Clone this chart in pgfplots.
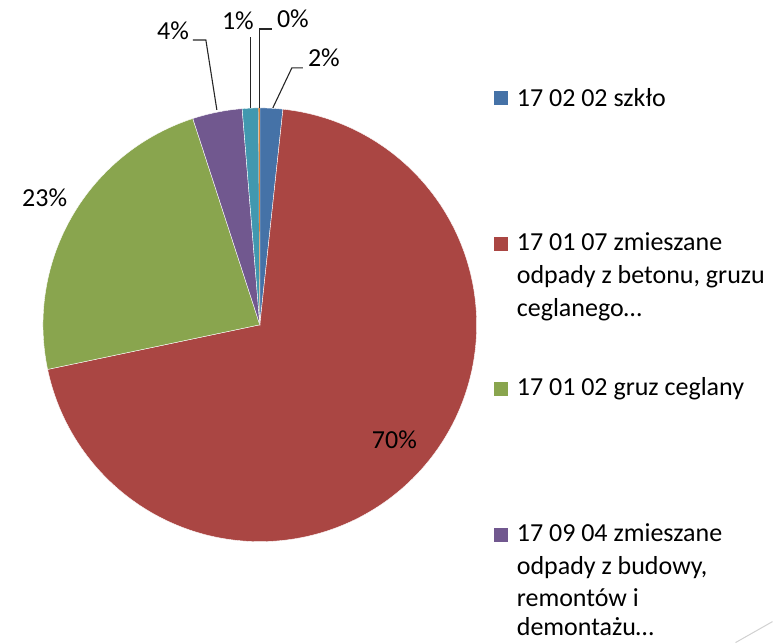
\documentclass[border=0pt]{standalone}
\usepackage{pgfplots}
\pgfplotsset{compat=1.18}
\usepackage{fontspec}
\setmainfont{Carlito}
\definecolor{cBlue}{HTML}{4572A7}
\definecolor{cRed}{HTML}{AA4643}
\definecolor{cGreen}{HTML}{89A54E}
\definecolor{cPurple}{HTML}{71588F}
\definecolor{cTeal}{HTML}{4198AF}
\definecolor{cOrange}{HTML}{DB843D}
% slice values (percent)
\def\vA{1.7}   % 17 02 02 szklo
\def\vB{70.0}  % 17 01 07
\def\vC{23.3}  % 17 01 02
\def\vD{3.7}   % 17 09 04
\def\vE{1.2}
\def\vF{0.1}
\pgfmathsetmacro\aA{90}
\pgfmathsetmacro\aB{\aA-3.6*\vA}
\pgfmathsetmacro\aC{\aB-3.6*\vB}
\pgfmathsetmacro\aD{\aC-3.6*\vC}
\pgfmathsetmacro\aE{\aD-3.6*\vD}
\pgfmathsetmacro\aF{\aE-3.6*\vE}
\pgfmathsetmacro\aG{\aF-3.6*\vF}
\def\cx{260}\def\cy{318}\def\R{217}
\newcommand\lf{\fontsize{26bp}{33bp}\selectfont}
\begin{document}
\begin{tikzpicture}
\begin{axis}[
  scale only axis, width=773bp, height=643bp,
  xmin=0, xmax=773, ymin=0, ymax=643,
  hide axis, clip=false,
]
\path (axis cs:0,0) rectangle (axis cs:773,643);
\addplot[fill=cBlue, draw=white, line width=0.4pt, domain=\aB:\aA, samples=20]
  ({\cx+\R*cos(x)},{\cy+\R*sin(x)}) -- (axis cs:\cx,\cy) -- cycle;
\addplot[fill=cRed, draw=white, line width=0.4pt, domain=\aC:\aB, samples=200]
  ({\cx+\R*cos(x)},{\cy+\R*sin(x)}) -- (axis cs:\cx,\cy) -- cycle;
\addplot[fill=cGreen, draw=white, line width=0.4pt, domain=\aD:\aC, samples=80]
  ({\cx+\R*cos(x)},{\cy+\R*sin(x)}) -- (axis cs:\cx,\cy) -- cycle;
\addplot[fill=cPurple, draw=white, line width=0.4pt, domain=\aE:\aD, samples=20]
  ({\cx+\R*cos(x)},{\cy+\R*sin(x)}) -- (axis cs:\cx,\cy) -- cycle;
\addplot[fill=cTeal, draw=white, line width=0.4pt, domain=\aF:\aE, samples=10]
  ({\cx+\R*cos(x)},{\cy+\R*sin(x)}) -- (axis cs:\cx,\cy) -- cycle;
\addplot[fill=cOrange, draw=none, domain=\aG:\aF, samples=4]
  ({\cx+\R*cos(x)},{\cy+\R*sin(x)}) -- (axis cs:\cx,\cy) -- cycle;
% leader lines
\draw[black!85, line width=1.1bp] (axis cs:273,535) -- (axis cs:292,575) -- (axis cs:303,575);
\draw[black!85, line width=1.1bp] (axis cs:259.3,535) -- (axis cs:259.3,614) -- (axis cs:272,614);
\draw[black!85, line width=1.1bp] (axis cs:251,535) -- (axis cs:251,606);
\draw[black!85, line width=1.1bp] (axis cs:217,533) -- (axis cs:206,603) -- (axis cs:193,603);
% data labels
\begin{scope}[every node/.style={anchor=base west, inner sep=0pt, font=\lf}]
\node at (axis cs:308,576) {2\%};
\node at (axis cs:277,615) {0\%};
\node at (axis cs:222,613) {1\%};
\node at (axis cs:157,603) {4\%};
\node at (axis cs:22,436) {23\%};
\node at (axis cs:372,194) {70\%};
% legend
\node at (axis cs:517,536) {17 02 02 szkło};
\node at (axis cs:517,392) {17 01 07 zmieszane};
\node at (axis cs:517,359) {odpady z betonu, gruzu};
\node at (axis cs:517,326) {ceglanego…};
\node at (axis cs:517,247) {17 01 02 gruz ceglany};
\node at (axis cs:517,101) {17 09 04 zmieszane};
\node at (axis cs:517,68) {odpady z budowy,};
\node at (axis cs:517,36) {remontów i};
\node at (axis cs:517,7) {demontażu…};
\end{scope}
\fill[cBlue]   (axis cs:494,538) rectangle (axis cs:508,552);
\fill[cRed]    (axis cs:494,392) rectangle (axis cs:508,406);
\fill[cGreen]  (axis cs:494,247) rectangle (axis cs:508,261);
\fill[cPurple] (axis cs:494,101) rectangle (axis cs:508,115);
% faint decorative line
\draw[black!18, line width=1bp] (axis cs:736,0) -- (axis cs:773,21);
\end{axis}
\end{tikzpicture}
\end{document}
